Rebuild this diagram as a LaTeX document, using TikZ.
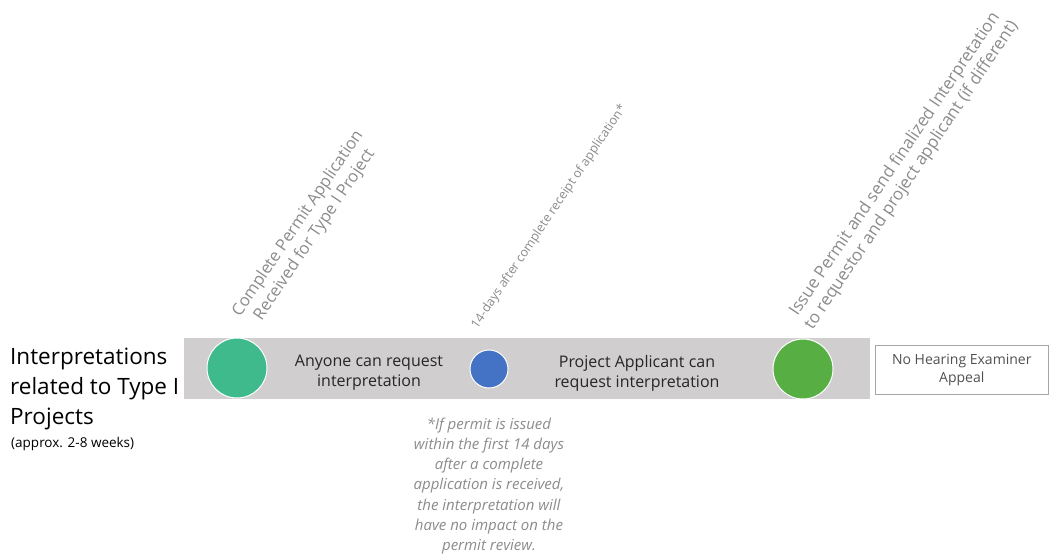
\documentclass[tikz,border=0pt]{standalone}
\usepackage{fontspec}
\setmainfont{Open Sans}
\definecolor{bargray}{HTML}{D0CECE}
\definecolor{teal}{HTML}{3FBA8C}
\definecolor{blueC}{HTML}{4472C4}
\definecolor{greenC}{HTML}{57AF44}
\definecolor{lbl}{HTML}{8C8C8C}
\definecolor{txt}{HTML}{262626}
\begin{document}
\begin{tikzpicture}[x=1pt,y=-1pt,
  dot/.style={circle,draw=white,line width=1pt,inner sep=0pt},
  bartext/.style={align=center,text=txt,font=\fontsize{16}{20}\selectfont},
  rotlabel/.style={rotate=56,anchor=south west,align=center,text=lbl,inner sep=0pt},
  note/.style={align=center,text=lbl,font=\itshape\fontsize{15}{20.3}\selectfont}]
\useasboundingbox (0,0) rectangle (1050,558);
\fill[white] (0,0) rectangle (1050,558);
\node[fill=bargray,minimum width=686pt,minimum height=61pt,inner sep=0pt,anchor=north west] (bar) at (184,338) {};
\node[dot,fill=teal,minimum size=60pt] (c1) at (237,368) {};
\node[dot,fill=blueC,minimum size=38pt] (c2) at (489,369) {};
\node[dot,fill=greenC,minimum size=60pt] (c3) at (803,369) {};
\node[bartext] (t1) at (369,373) {Anyone can request\\interpretation};
\node[bartext] (t2) at (637,373) {Project Applicant can\\request interpretation};
\node[draw=gray!70,line width=0.6pt,minimum width=173pt,minimum height=49pt,inner sep=0pt,anchor=north west,align=center,text=txt!80,font=\fontsize{14}{18}\selectfont] (box) at (875,345) {No Hearing Examiner\\Appeal};
\node[anchor=north west,align=left,text=black,font=\fontsize{22.5}{30}\selectfont,inner sep=0pt] (title) at (10,348) {Interpretations\\related to Type I\\Projects};
\node[anchor=north west,text=black,font=\fontsize{13.5}{15}\selectfont,inner sep=0pt] (sub) at (11,437) {(approx. 2-8 weeks)};
\node[rotlabel,font=\fontsize{16.5}{20}\selectfont] (l1) at (260,331) {Complete Permit Application\\Received for Type I Project};
\node[rotlabel,font=\fontsize{12.5}{14}\selectfont] (l2) at (480,331) {14-days after complete receipt of application*};
\node[rotlabel,font=\fontsize{17}{20}\selectfont] (l3) at (816,333) {Issue Permit and send finalized Interpretation\\to requestor and project applicant (if different)};
\node[note,anchor=north] (n) at (489,414) {*If permit is issued\\within the first 14 days\\after a complete\\application is received,\\the interpretation will\\have no impact on the\\permit review.};
\end{tikzpicture}
\end{document}
